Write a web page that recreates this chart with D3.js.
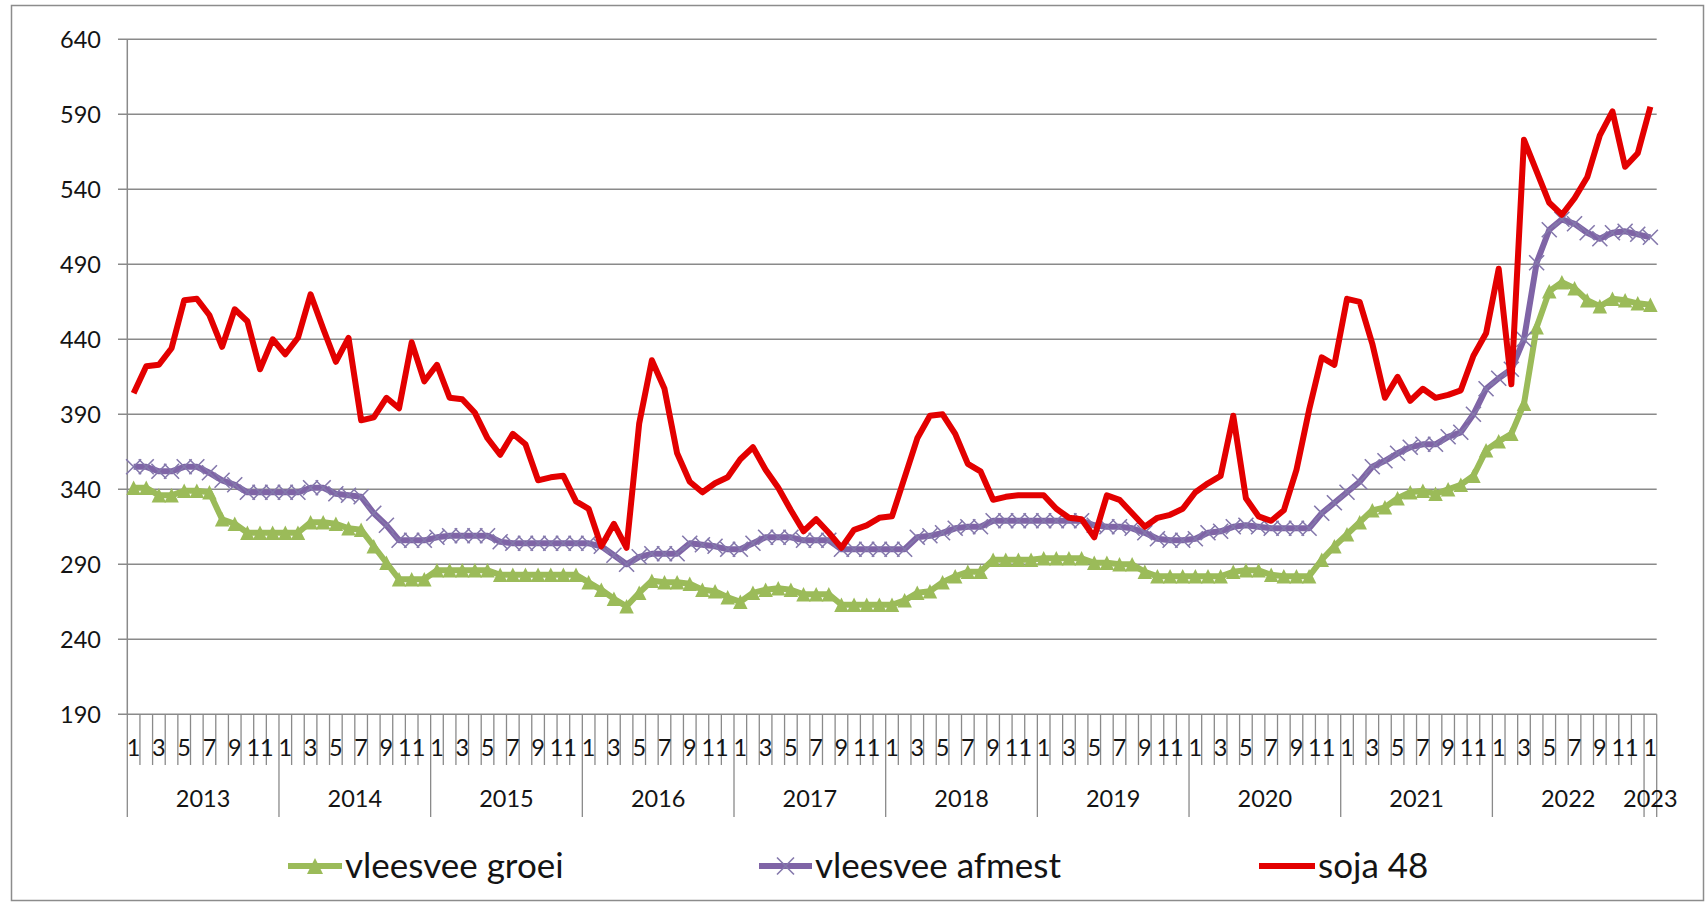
<!DOCTYPE html>
<html>
<head>
<meta charset="utf-8">
<script src="https://cdn.jsdelivr.net/npm/d3@7/dist/d3.min.js"></script>
<style>
  html, body { margin: 0; padding: 0; background: #ffffff; }
  svg { display: block; font-family: Lato, "Open Sans", "Liberation Sans", sans-serif; }
</style>
</head>
<body>
<svg id="chart" width="1706" height="902"></svg>
<script>
// ---------- data ----------
const years = [2013, 2014, 2015, 2016, 2017, 2018, 2019, 2020, 2021, 2022, 2023];
const monthNumbers = [1, 2, 3, 4, 5, 6, 7, 8, 9, 10, 11, 12];
const yTicks = [190, 240, 290, 340, 390, 440, 490, 540, 590, 640];
const seriesNames = ["vleesvee groei", "vleesvee afmest", "soja 48"];

const vleesveeGroei = [
  341, 341, 336, 336, 339, 339, 338, 320, 317, 311, 311, 311,
  311, 311, 318, 318, 317, 314, 313, 302, 291, 280, 280, 280,
  286, 286, 286, 286, 286, 283, 283, 283, 283, 283, 283, 283,
  278, 273, 267, 262, 271, 279, 278, 278, 277, 273, 272, 268,
  265, 271, 273, 274, 273, 270, 270, 270, 263, 263, 263, 263,
  263, 266, 271, 272, 278, 282, 285, 285, 293, 293, 293, 293,
  294, 294, 294, 294, 291, 291, 290, 290, 285, 282, 282, 282,
  282, 282, 282, 285, 286, 286, 283, 282, 282, 282, 293, 302,
  310, 318, 326, 328, 334, 338, 339, 337, 340, 343, 349, 366,
  372, 377, 397, 448, 472, 478, 474, 466, 462, 467, 466, 464,
  463
];
const vleesveeAfmest = [
  355, 355, 352, 352, 355, 355, 351, 346, 343, 338, 338, 338,
  338, 338, 341, 341, 337, 336, 335, 324, 316, 306, 306, 306,
  308, 309, 309, 309, 309, 305, 304, 304, 304, 304, 304, 304,
  304, 302, 296, 290, 295, 297, 297, 297, 304, 303, 302, 300,
  300, 304, 308, 308, 308, 306, 306, 306, 300, 300, 300, 300,
  300, 300, 308, 309, 311, 314, 315, 315, 319, 319, 319, 319,
  319, 319, 319, 319, 316, 315, 315, 314, 311, 307, 306, 306,
  307, 311, 312, 315, 316, 315, 314, 314, 314, 314, 324, 331,
  338, 345, 355, 359, 364, 368, 370, 370, 375, 378, 390, 407,
  414, 420, 440, 491, 513, 520, 517, 511, 507, 511, 512, 510,
  508
];
const soja48 = [
  404, 422, 423, 434, 466, 467, 456, 435, 460, 452, 420, 440,
  430, 441, 470, 447, 425, 441, 386, 388, 401, 394, 438, 412,
  423, 401, 400, 391, 374, 363, 377, 370, 346, 348, 349, 332,
  327, 302, 317, 301, 384, 426, 407, 364, 345, 338, 344, 348,
  360, 368, 353, 341, 326, 312, 320, 311, 301, 313, 316, 321,
  322, 348, 374, 389, 390, 377, 357, 352, 333, 335, 336, 336,
  336, 327, 321, 320, 308, 336, 333, 324, 315, 321, 323, 327,
  338, 344, 349, 389, 334, 322, 319, 326, 353, 393, 428, 423,
  467, 465, 437, 401, 415, 399, 407, 401, 403, 406, 429, 444,
  487, 410, 573, 552, 531, 523, 534, 548, 576, 592, 555, 564,
  595
];

(function () {
// categories: Jan 2013 .. Jan 2023
const categories = [];
years.forEach(yr => {
  (yr === 2023 ? [1] : monthNumbers).forEach(m => categories.push({ year: yr, month: m }));
});

// ---------- layout ----------
const svg = d3.select("#chart");
const plotLeft = 127.3, plotRight = 1656.7, plotTop = 39.3, plotBottom = 714.3;

const x = d3.scaleBand().domain(d3.range(categories.length)).range([plotLeft, plotRight]).padding(0);
const bw = x.bandwidth();
const cx = i => x(i) + bw / 2;
const y = d3.scaleLinear().domain([190, 640]).range([plotBottom, plotTop]);

const gridColor = "#8a8a8a";
const textColor = "#141414";
const axisFont = 23.5;

// outer border
svg.append("rect").attr("x", 11.5).attr("y", 5.5).attr("width", 1692).attr("height", 895)
  .attr("fill", "none").attr("stroke", "#8c8c8c").attr("stroke-width", 1.5);

// gridlines + y labels
const gy = svg.append("g");
yTicks.forEach(t => {
  gy.append("line").attr("x1", 118).attr("x2", plotRight).attr("y1", y(t)).attr("y2", y(t))
    .attr("stroke", gridColor).attr("stroke-width", 1.5);
  gy.append("text").attr("x", 101).attr("y", y(t)).attr("dy", "0.36em")
    .attr("text-anchor", "end").attr("font-size", axisFont).attr("fill", textColor).text(t);
});
// y axis line
svg.append("line").attr("x1", plotLeft).attr("x2", plotLeft).attr("y1", plotTop).attr("y2", plotBottom)
  .attr("stroke", gridColor).attr("stroke-width", 1.5);

// x axis: category boundaries
const gx = svg.append("g");
for (let k = 0; k <= categories.length; k++) {
  const xe = k < categories.length ? x(k) : plotRight;
  const isYear = k === 0 || k === categories.length || categories[k].month === 1;
  gx.append("line").attr("x1", xe).attr("x2", xe).attr("y1", plotBottom)
    .attr("y2", isYear ? 817 : 765).attr("stroke", gridColor).attr("stroke-width", 1.3);
}
// month labels (odd months)
categories.forEach((c, i) => {
  if (c.month % 2 === 1) {
    gx.append("text").attr("x", cx(i)).attr("y", 756).attr("text-anchor", "middle")
      .attr("font-size", axisFont).attr("fill", textColor).text(c.month);
  }
});
// year labels
years.forEach(yr => {
  const idx = categories.map((c, i) => c.year === yr ? i : -1).filter(i => i >= 0);
  const x0 = x(idx[0]), x1 = x(idx[idx.length - 1]) + bw;
  gx.append("text").attr("x", (x0 + x1) / 2).attr("y", 807).attr("text-anchor", "middle")
    .attr("font-size", axisFont).attr("fill", textColor).text(yr);
});

// ---------- series ----------
const green = "#9BBB59", purple = "#7F64A6", red = "#E30000", xMarkColor = "#8478ac";
const line = d3.line().x((d, i) => cx(i)).y(d => y(d));

function triPath(px, py, s) {
  return `M${px},${py - s / 2}L${px + s / 2},${py + s / 2}L${px - s / 2},${py + s / 2}Z`;
}
function xPath(px, py, s) {
  const h = s / 2;
  return `M${px - h},${py - h}L${px + h},${py + h}M${px - h},${py + h}L${px + h},${py - h}`;
}

// groei
svg.append("path").datum(vleesveeGroei).attr("d", line).attr("fill", "none")
  .attr("stroke", green).attr("stroke-width", 6).attr("stroke-linejoin", "round");
svg.append("g").selectAll("path").data(vleesveeGroei).join("path")
  .attr("d", (d, i) => triPath(cx(i), y(d), 14.5)).attr("fill", green);

// afmest
svg.append("path").datum(vleesveeAfmest).attr("d", line).attr("fill", "none")
  .attr("stroke", purple).attr("stroke-width", 6).attr("stroke-linejoin", "round");
svg.append("g").selectAll("path").data(vleesveeAfmest).join("path")
  .attr("d", (d, i) => xPath(cx(i), y(d), 15)).attr("fill", "none")
  .attr("stroke", xMarkColor).attr("stroke-width", 1.6);

// soja
svg.append("path").datum(soja48).attr("d", line).attr("fill", "none")
  .attr("stroke", red).attr("stroke-width", 6).attr("stroke-linejoin", "round");

// ---------- legend ----------
const legend = [
  { name: seriesNames[0], color: green, x0: 288, x1: 342, marker: "tri" },
  { name: seriesNames[1], color: purple, x0: 759, x1: 812, marker: "x" },
  { name: seriesNames[2], color: red, x0: 1259, x1: 1315, marker: null }
];
const ly = 866;
legend.forEach(l => {
  svg.append("line").attr("x1", l.x0).attr("x2", l.x1).attr("y1", ly).attr("y2", ly)
    .attr("stroke", l.color).attr("stroke-width", 6);
  const mx = (l.x0 + l.x1) / 2;
  if (l.marker === "tri") svg.append("path").attr("d", triPath(mx, ly, 16)).attr("fill", l.color);
  if (l.marker === "x") svg.append("path").attr("d", xPath(mx, ly, 17)).attr("fill", "none")
    .attr("stroke", xMarkColor).attr("stroke-width", 1.6);
  svg.append("text").attr("x", l.x1 + 3).attr("y", ly).attr("dy", "0.33em")
    .attr("font-size", 35).attr("fill", textColor).text(l.name);
});
})();
</script>
</body>
</html>
